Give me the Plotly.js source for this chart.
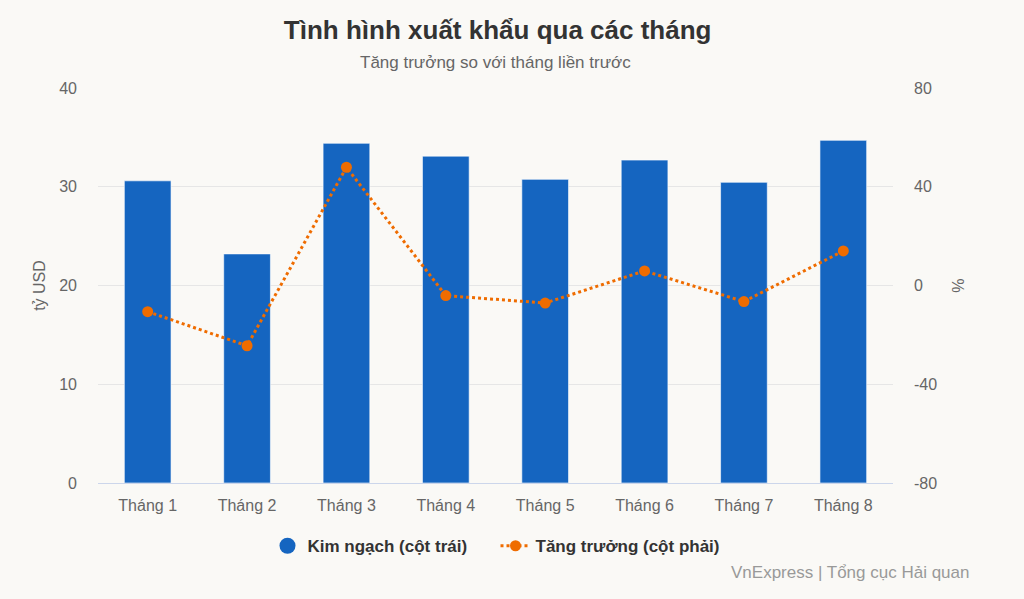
<!DOCTYPE html>
<html><head><meta charset="utf-8">
<script src="https://cdn.plot.ly/plotly-3.0.1.min.js"></script>
<style>html,body{margin:0;padding:0;background:#faf9f6;}#chart{width:1024px;height:599px;}</style>
</head><body><div id="chart"></div>
<script>
const months = ["Tháng 1","Tháng 2","Tháng 3","Tháng 4","Tháng 5","Tháng 6","Tháng 7","Tháng 8"];
const exportValues = [30.6, 23.2, 34.4, 33.1, 30.75, 32.7, 30.45, 34.7];
const growthValues = [-10.6, -24.4, 47.9, -4.1, -7.1, 5.9, -6.5, 14.0];
const leftTicks = [0, 10, 20, 30, 40];
const rightTicks = [-80, -40, 0, 40, 80];
const rightTickText = ["-80", "-40", "0", "40", "80"];

const FONT = "Liberation Sans, Arial, sans-serif";
const traces = [
  {type:'bar', x:months, y:exportValues, name:'Kim ngạch (cột trái)', showlegend:false,
   marker:{color:'#1565c0', line:{color:'rgba(255,255,255,0.6)', width:1}}, hoverinfo:'y'},
  {type:'scatter', mode:'markers', x:[null], y:[null], name:'Kim ngạch (cột trái)',
   marker:{color:'#1565c0', size:17, symbol:'circle'}},
  {type:'scatter', mode:'lines+markers', x:months, y:growthValues, yaxis:'y2', name:'Tăng trưởng (cột phải)',
   line:{color:'#ef6c00', width:3, dash:'dot'}, marker:{color:'#ef6c00', size:11}}
];
const layout = {
  width:1024, height:599,
  paper_bgcolor:'#faf9f6', plot_bgcolor:'#faf9f6',
  font:{family:FONT, color:'#666', size:16},
  margin:{l:98, r:131, t:88, b:116},
  title:{text:'<b>Tình hình xuất khẩu qua các tháng</b>', x:0.486, xanchor:'center', y:0.95, yanchor:'middle',
         font:{family:FONT, size:26, color:'#333'}},
  bargap:0.53,
  xaxis:{type:'category', showgrid:false, showline:true, linecolor:'#ccd6eb', linewidth:1,
         ticks:'', tickfont:{size:16, color:'#666'}, ticklabelstandoff:8, fixedrange:true},
  yaxis:{range:[0,40], tickvals:leftTicks, gridcolor:'#e6e6e6', gridwidth:1, zeroline:false,
         tickfont:{size:16, color:'#666'}, ticklabelstandoff:20,
         title:{text:'tỷ USD', font:{size:16, color:'#666'}, standoff:9}},
  yaxis2:{range:[-80,80], tickvals:rightTicks, ticktext:rightTickText, overlaying:'y', side:'right', showgrid:false, zeroline:false,
          tickfont:{size:16, color:'#666'}, ticklabelstandoff:20,
          title:{text:'%', font:{size:16, color:'#666'}, standoff:16}},
  legend:{orientation:'h', x:0.5, xanchor:'center', y:-0.16, yanchor:'middle', entrywidth:183,
          font:{family:FONT, size:17, color:'#333', weight:'bold'}, bgcolor:'rgba(0,0,0,0)', itemwidth:30},
  annotations:[
    {text:'Tăng trưởng so với tháng liền trước', xref:'paper', yref:'paper', x:0.5, y:1.0, yshift:26,
     xanchor:'center', yanchor:'middle', showarrow:false, font:{family:FONT, size:17, color:'#666'}},
    {text:'VnExpress | Tổng cục Hải quan', xref:'paper', yref:'paper', x:1, xshift:78, y:0, yshift:-89,
     xanchor:'right', yanchor:'middle', showarrow:false, font:{family:FONT, size:17, color:'#999'}}
  ],
  showlegend:true
};
Plotly.newPlot('chart', traces, layout, {displayModeBar:false, responsive:false});
</script></body></html>
